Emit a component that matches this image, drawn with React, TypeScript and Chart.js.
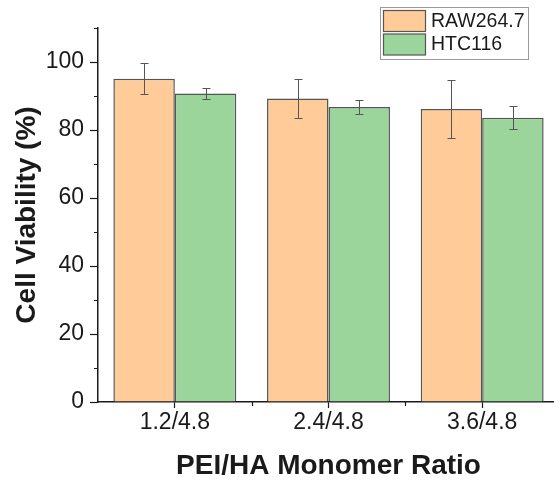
import { useEffect, useRef } from 'react';
import { Chart, registerables } from 'chart.js';

Chart.register(...registerables);

// Cell viability at each PEI/HA monomer ratio, mean and standard deviation (%)
const categories = ['1.2/4.8', '2.4/4.8', '3.6/4.8'];
const seriesNames = ['RAW264.7', 'HTC116'];
const rawValues = [95.1, 89.3, 86.2];
const rawErrors = [4.6, 5.8, 8.5];
const htcValues = [90.7, 86.8, 83.6];
const htcErrors = [1.6, 2.0, 3.4];
const yTickLabels = [0, 20, 40, 60, 80, 100];

const seriesErrors = [rawErrors, htcErrors];
const FONT = '"Liberation Sans", Arial, Helvetica, sans-serif';
const INK = '#1a1a1a';

// Error bars with small caps, placed through the value scale
const errorBarPlugin = {
  id: 'errorBars',
  afterDatasetsDraw(chart: any) {
    const { ctx } = chart;
    const yScale = chart.scales.y;
    ctx.save();
    ctx.strokeStyle = '#555555';
    ctx.lineWidth = 1;
    chart.data.datasets.forEach((ds: any, di: number) => {
      const meta = chart.getDatasetMeta(di);
      meta.data.forEach((bar: any, i: number) => {
        const v = ds.data[i] as number;
        const e = seriesErrors[di][i];
        const yt = Math.round(yScale.getPixelForValue(v + e)) + 0.5;
        const yb = Math.round(yScale.getPixelForValue(v - e)) + 0.5;
        const x = Math.round(bar.x) + 0.5;
        ctx.beginPath();
        ctx.moveTo(x, yt);
        ctx.lineTo(x, yb);
        ctx.moveTo(x - 4, yt);
        ctx.lineTo(x + 4, yt);
        ctx.moveTo(x - 4, yb);
        ctx.lineTo(x + 4, yb);
        ctx.stroke();
      });
    });
    ctx.restore();
  },
};

// Short minor ticks between the labelled ones on both axes
const minorTickPlugin = {
  id: 'minorTicks',
  afterDraw(chart: any) {
    const { ctx } = chart;
    const x = chart.scales.x;
    const y = chart.scales.y;
    ctx.save();
    ctx.strokeStyle = INK;
    ctx.lineWidth = 1.2;
    ctx.beginPath();
    for (let v = 10; v <= 110; v += 20) {
      const py = Math.round(y.getPixelForValue(v)) + 0.5;
      ctx.moveTo(x.left - 4, py);
      ctx.lineTo(x.left, py);
    }
    for (let i = 1; i < categories.length; i++) {
      const px = Math.round(x.getPixelForValue(i - 0.5)) + 0.5;
      ctx.moveTo(px, y.bottom);
      ctx.lineTo(px, y.bottom + 4);
    }
    ctx.stroke();
    ctx.restore();
  },
};

// Boxed legend in the upper right corner
const boxLegendPlugin = {
  id: 'boxLegend',
  afterDraw(chart: any) {
    const { ctx } = chart;
    ctx.save();
    ctx.strokeStyle = '#9a9a9a';
    ctx.lineWidth = 1;
    ctx.strokeRect(380.5, 7.5, 148, 52);
    chart.data.datasets.forEach((ds: any, i: number) => {
      const top = 10.5 + i * 23.5;
      ctx.fillStyle = ds.backgroundColor;
      ctx.fillRect(383.5, top, 42, 21);
      ctx.strokeStyle = '#555555';
      ctx.lineWidth = 1.2;
      ctx.strokeRect(383.5, top, 42, 21);
      ctx.fillStyle = INK;
      ctx.font = `19.5px ${FONT}`;
      ctx.textBaseline = 'middle';
      ctx.textAlign = 'left';
      ctx.fillText(ds.label, 431, top + 11);
    });
    ctx.restore();
  },
};

export default function App() {
  const canvasRef = useRef<HTMLCanvasElement | null>(null);

  useEffect(() => {
    const canvas = canvasRef.current;
    if (!canvas) return;
    const chart = new Chart(canvas, {
      type: 'bar',
      data: {
        labels: categories,
        datasets: [
          {
            label: seriesNames[0],
            data: rawValues,
            backgroundColor: '#FFCC99',
            borderColor: '#555555',
            borderWidth: 1.5,
            categoryPercentage: 0.8,
            barPercentage: 1.0,
          },
          {
            label: seriesNames[1],
            data: htcValues,
            backgroundColor: '#9BD59B',
            borderColor: '#555555',
            borderWidth: 1.5,
            categoryPercentage: 0.8,
            barPercentage: 1.0,
          },
        ],
      },
      options: {
        responsive: false,
        animation: false,
        devicePixelRatio: 1,
        layout: { padding: { top: 28, left: 0, right: 0, bottom: 0 } },
        plugins: {
          legend: { display: false },
          tooltip: { enabled: false },
        },
        scales: {
          x: {
            afterFit: (scale: any) => {
              scale.height = 79;
            },
            grid: {
              offset: false,
              drawOnChartArea: false,
              drawTicks: true,
              tickLength: 6,
              tickWidth: 1.2,
              tickColor: INK,
            },
            border: { color: INK, width: 1.5 },
            ticks: {
              color: INK,
              font: { family: FONT, size: 23 },
              padding: 1,
              maxRotation: 0,
            },
            title: {
              display: true,
              text: 'PEI/HA Monomer Ratio',
              color: INK,
              font: { family: FONT, size: 28, weight: 'bold', lineHeight: 1 },
              padding: { top: 0, bottom: 1 },
            },
          },
          y: {
            min: 0,
            max: 110,
            afterFit: (scale: any) => {
              scale.width = 98;
            },
            grid: {
              drawOnChartArea: false,
              drawTicks: true,
              tickLength: 8,
              tickWidth: 1.2,
              tickColor: (c: any) =>
                c.tick && yTickLabels.includes(c.tick.value) ? INK : 'rgba(0,0,0,0)',
            },
            border: { color: INK, width: 1.5 },
            ticks: {
              stepSize: 10,
              autoSkip: false,
              color: INK,
              font: { family: FONT, size: 23 },
              padding: 6,
              callback: (v: any) => (yTickLabels.includes(Number(v)) ? String(v) : ''),
            },
            title: {
              display: true,
              text: 'Cell Viability (%)',
              color: INK,
              font: { family: FONT, size: 28, weight: 'bold', lineHeight: 1.2 },
              padding: { top: 10, bottom: 0 },
            },
          },
        },
      },
      plugins: [errorBarPlugin, minorTickPlugin, boxLegendPlugin],
    });
    return () => chart.destroy();
  }, []);

  return (
    <div
      style={{
        position: 'fixed',
        left: 0,
        top: 0,
        width: 554,
        height: 481,
        overflow: 'hidden',
        background: '#ffffff',
      }}
    >
      <canvas ref={canvasRef} width={559} height={481} style={{ display: 'block' }} />
    </div>
  );
}
